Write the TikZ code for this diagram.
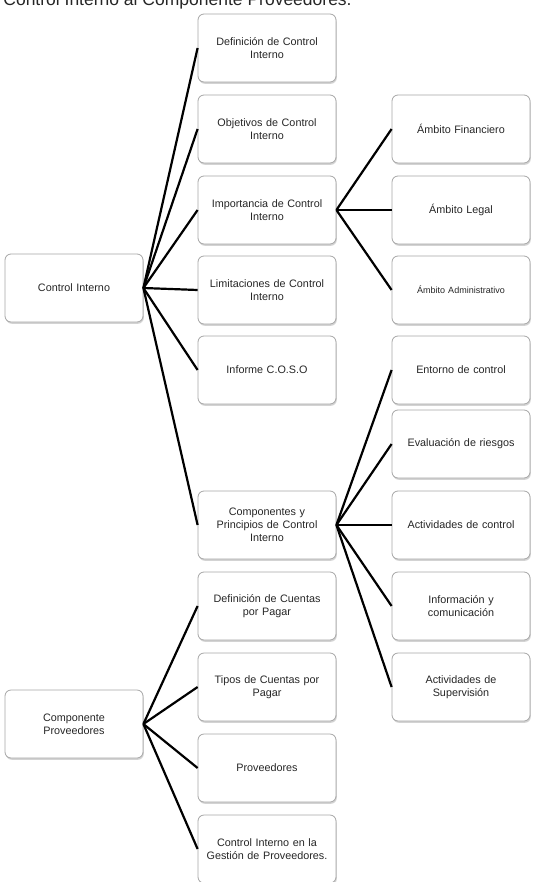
\documentclass[tikz,border=0pt]{standalone}
\usepackage{fontspec}
\setmainfont{Liberation Sans}
\usetikzlibrary{shadows}

\begin{document}
\begin{tikzpicture}[x=1pt,y=-1pt,thick,main node/.style={rectangle,rounded corners=6pt,draw=black!35,line width=0.8pt,fill=white,drop shadow={opacity=0.35,shadow xshift=0.8pt,shadow yshift=-1.8pt},minimum width=138pt,minimum height=68pt,text width=130pt,align=center,font=\fontsize{10.8}{12.8}\selectfont,text=black!85}]
  \useasboundingbox (0,0) rectangle (535,882);
  \node[anchor=base west,inner sep=0pt,font=\fontsize{17.5}{20}\selectfont,text=black!85] (titulo) at (3,6) {Control Interno al Componente Proveedores.};

  \node[main node] (ci) at (74,288) {Control Interno};
  \node[main node] (cp) at (74,724) {Componente\\Proveedores};

  \node[main node] (def) at (267,48) {Definición de Control\\Interno};
  \node[main node] (obj) at (267,129) {Objetivos de Control\\Interno};
  \node[main node] (imp) at (267,210) {Importancia de Control\\Interno};
  \node[main node] (lim) at (267,290) {Limitaciones de Control\\Interno};
  \node[main node] (coso) at (267,370) {Informe C.O.S.O};
  \node[main node] (comp) at (267,525) {Componentes y\\Principios de Control\\Interno};
  \node[main node] (dcp) at (267,606) {Definición de Cuentas\\por Pagar};
  \node[main node] (tcp) at (267,687) {Tipos de Cuentas por\\Pagar};
  \node[main node] (prov) at (267,768) {Proveedores};
  \node[main node] (gest) at (267,849) {Control Interno en la\\Gestión de Proveedores.};

  \node[main node] (fin) at (461,129) {Ámbito Financiero};
  \node[main node] (leg) at (461,210) {Ámbito Legal};
  \node[main node,font=\fontsize{9}{11}\selectfont] (adm) at (461,290) {Ámbito Administrativo};
  \node[main node] (ent) at (461,370) {Entorno de control};
  \node[main node] (eva) at (461,444) {Evaluación de riesgos};
  \node[main node] (act) at (461,525) {Actividades de control};
  \node[main node] (inf) at (461,606) {Información y\\comunicación};
  \node[main node] (sup) at (461,687) {Actividades de\\Supervisión};

\path[line width=2.2pt]
  (ci.east) edge (def.west)
  (ci.east) edge (obj.west)
  (ci.east) edge (imp.west)
  (ci.east) edge (lim.west)
  (ci.east) edge (coso.west)
  (ci.east) edge (comp.west)
  (imp.east) edge (fin.west)
  (imp.east) edge (leg.west)
  (imp.east) edge (adm.west)
  (comp.east) edge (ent.west)
  (comp.east) edge (eva.west)
  (comp.east) edge (act.west)
  (comp.east) edge (inf.west)
  (comp.east) edge (sup.west)
  (cp.east) edge (dcp.west)
  (cp.east) edge (tcp.west)
  (cp.east) edge (prov.west)
  (cp.east) edge (gest.west)
;
\end{tikzpicture}
\end{document}
